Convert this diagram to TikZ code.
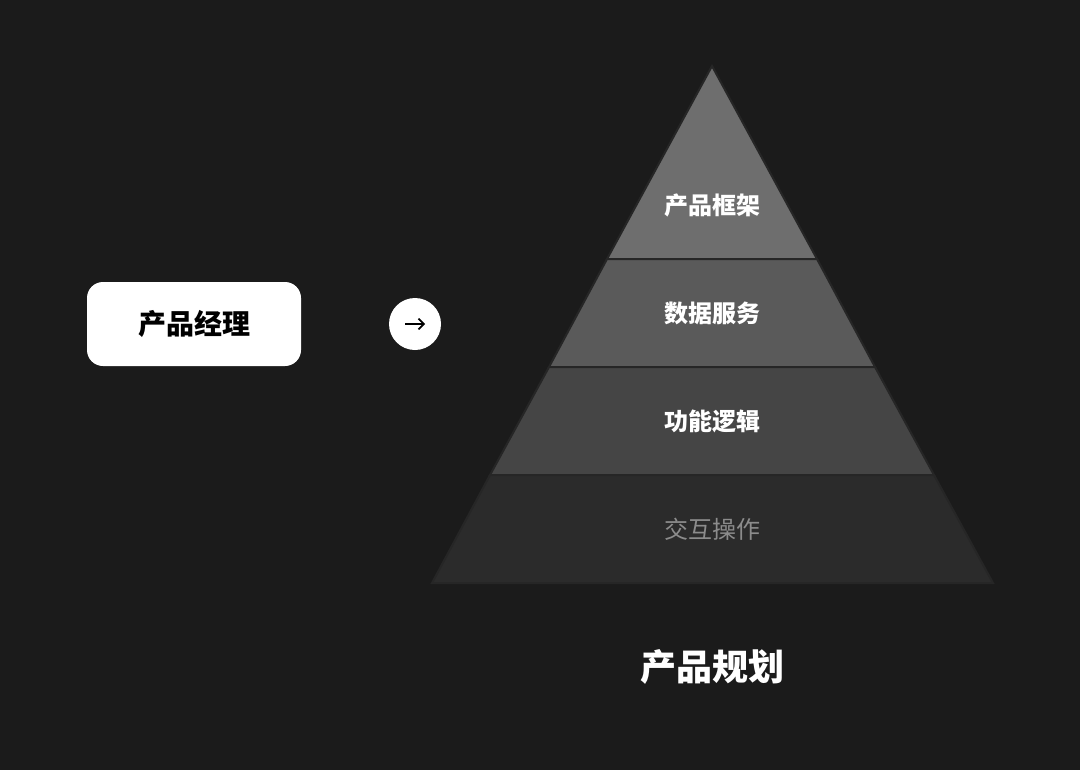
\documentclass[tikz,border=0pt]{standalone}
\usepackage{fontspec}
\usetikzlibrary{arrows.meta}
\newfontfamily\cjk{Noto Sans CJK SC}
\definecolor{bg}{HTML}{1B1B1B}
\definecolor{lA}{HTML}{6E6E6E}
\definecolor{lB}{HTML}{5A5A5A}
\definecolor{lC}{HTML}{454545}
\definecolor{lD}{HTML}{2B2B2B}
\definecolor{sep}{HTML}{262626}
\begin{document}
\begin{tikzpicture}[x=0.75pt,y=-0.75pt,
  layer/.style={draw=sep,line width=1.5pt},
  ltext/.style={font=\cjk\bfseries\fontsize{18}{20}\selectfont,text=white}]
\fill[bg] (0,0) rectangle (1080,770);
\useasboundingbox (0,0) rectangle (1080,770);
\draw[layer,fill=lA] (712,66) -- (817,259) -- (607,259) -- cycle;
\draw[layer,fill=lB] (607,259) -- (817,259) -- (875,367) -- (549,367) -- cycle;
\draw[layer,fill=lC] (549,367) -- (875,367) -- (934,475) -- (490,475) -- cycle;
\draw[layer,fill=lD] (490,475) -- (934,475) -- (993,583) -- (432,583) -- cycle;
\node[ltext] (t1) at (712,205) {产品框架};
\node[ltext] (t2) at (712,313) {数据服务};
\node[ltext] (t3) at (712,421) {功能逻辑};
\node[ltext,text=white!55!black,font=\cjk\fontsize{18}{20}\selectfont] (t4) at (712,529) {交互操作};
\node[fill=white,rounded corners=12pt,minimum width=160.5pt,minimum height=63pt,
  font=\cjk\bfseries\fontsize{21}{24}\selectfont,text=black] (pm) at (194,324) {产品经理};
\node[circle,fill=white,minimum size=39pt,inner sep=0] (c) at (415,324) {};
\draw[black,line width=1.2pt,-{Straight Barb[length=4pt]}] ([xshift=-7.5pt]c.center) -- ([xshift=7.5pt]c.center);
\node[font=\cjk\bfseries\fontsize{27}{30}\selectfont,text=white] (title) at (712,667) {产品规划};
\end{tikzpicture}
\end{document}
